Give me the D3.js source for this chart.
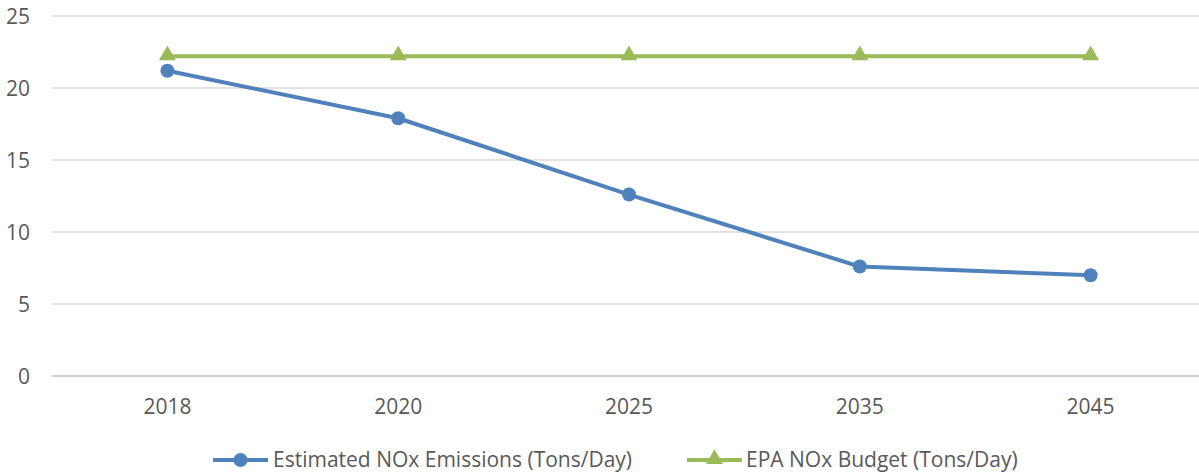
<!DOCTYPE html>
<html>
<head>
<meta charset="utf-8">
<script src="https://cdn.jsdelivr.net/npm/d3@7"></script>
<style>
  html, body { margin: 0; padding: 0; background: #fff; }
  svg { display: block; }
  text { font-family: "Open Sans", "Liberation Sans", sans-serif; fill: #595959; }
</style>
</head>
<body>
<svg id="chart" width="1199" height="473"></svg>
<script>
const categories = ["2018", "2020", "2025", "2035", "2045"];
const emissions = [21.2, 17.9, 12.6, 7.6, 7.0];
const budget = [22.2, 22.2, 22.2, 22.2, 22.2];
const yTicks = [0, 5, 10, 15, 20, 25];
const seriesNames = ["Estimated NOx Emissions (Tons/Day)", "EPA NOx Budget (Tons/Day)"];
const colors = ["#4f81bd", "#9bbb59"];

const svg = d3.select("#chart");
const W = 1199, H = 473;
const plotLeft = 52, plotRight = 1206, plotTop = 16, plotBottom = 376;

const x = d3.scaleBand().domain(categories).range([plotLeft, plotRight]).paddingInner(0).paddingOuter(0);
const y = d3.scaleLinear().domain([0, 25]).range([plotBottom, plotTop]);

// gridlines
const grid = svg.append("g");
grid.selectAll("line").data(yTicks).join("line")
  .attr("x1", plotLeft).attr("x2", W)
  .attr("y1", d => y(d)).attr("y2", d => y(d))
  .attr("stroke", d => d === 0 ? "#bfbfbf" : "#d9d9d9")
  .attr("stroke-width", 1.5);

// y axis labels
const yAxis = d3.axisLeft(y).tickValues(yTicks).tickSize(0).tickPadding(0);
const yg = svg.append("g").attr("transform", `translate(30,0)`).call(yAxis);
yg.select(".domain").remove();
yg.selectAll("text").attr("font-size", 21).attr("fill", "#595959").attr("dy", "0.35em");

// x axis labels
const xAxis = d3.axisBottom(x).tickSize(0).tickPadding(0);
const xg = svg.append("g").attr("transform", `translate(0,${plotBottom + 31})`).call(xAxis);
xg.select(".domain").remove();
xg.selectAll("text").attr("font-size", 21).attr("fill", "#595959").attr("dy", "0.35em");

const cx = d => x(d) + x.bandwidth() / 2;
const line = d3.line().x(d => cx(d.c)).y(d => y(d.v));

const s1 = categories.map((c, i) => ({ c, v: emissions[i] }));
const s2 = categories.map((c, i) => ({ c, v: budget[i] }));

// budget line
svg.append("path").datum(s2).attr("d", line)
  .attr("fill", "none").attr("stroke", colors[1]).attr("stroke-width", 4);
const tri = d3.symbol().type(d3.symbolTriangle).size(125);
svg.append("g").selectAll("path").data(s2).join("path")
  .attr("d", tri).attr("transform", d => `translate(${cx(d.c)},${y(d.v) - 1})`)
  .attr("fill", colors[1]);

// emissions line
svg.append("path").datum(s1).attr("d", line)
  .attr("fill", "none").attr("stroke", colors[0]).attr("stroke-width", 4).attr("stroke-linejoin", "round");
svg.append("g").selectAll("circle").data(s1).join("circle")
  .attr("cx", d => cx(d.c)).attr("cy", d => y(d.v)).attr("r", 7)
  .attr("fill", colors[0]);

// legend
const legY = 460;
const legend = [
  { name: seriesNames[0], color: colors[0], x0: 213, x1: 268, tx: 273, type: "circle" },
  { name: seriesNames[1], color: colors[1], x0: 687, x1: 742, tx: 746, type: "tri" }
];
const lg = svg.append("g");
legend.forEach(l => {
  lg.append("line").attr("x1", l.x0).attr("x2", l.x1).attr("y1", legY).attr("y2", legY)
    .attr("stroke", l.color).attr("stroke-width", 4);
  const mx = (l.x0 + l.x1) / 2;
  if (l.type === "circle") {
    lg.append("circle").attr("cx", mx).attr("cy", legY).attr("r", 7).attr("fill", l.color);
  } else {
    lg.append("path").attr("d", tri).attr("transform", `translate(${mx},${legY - 1})`).attr("fill", l.color);
  }
  lg.append("text").attr("x", l.tx).attr("y", legY).attr("dy", "0.35em")
    .attr("font-size", 21).attr("fill", "#595959").text(l.name);
});
</script>
</body>
</html>
